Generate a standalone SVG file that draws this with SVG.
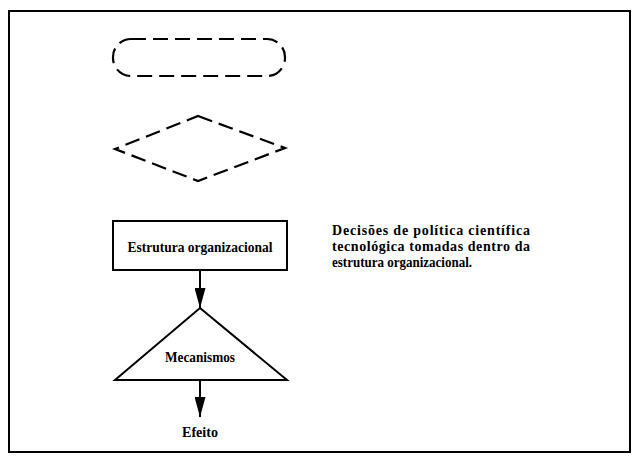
<svg xmlns="http://www.w3.org/2000/svg" width="637" height="458" viewBox="0 0 637 458">
<style>
.ln{fill:none;stroke:#000;stroke-width:2}
.dash{fill:none;stroke:#000;stroke-width:2.2;stroke-dasharray:15 7}
.t{font-family:"Liberation Serif","Times New Roman",serif;font-weight:bold;font-size:14px;fill:#000}
</style>
<defs>
<marker id="ah" markerWidth="20" markerHeight="11" refX="20" refY="5.5" orient="auto" markerUnits="userSpaceOnUse" viewBox="0 0 20 11"><path d="M0,0 L20,5.5 L0,11 Z" fill="#000"/></marker>
</defs>
<rect width="637" height="458" fill="#fff"/>
<rect x="9" y="11" width="621" height="441" class="ln"/>
<g id="terminal"><rect x="113" y="39" width="172" height="37" rx="18" class="dash"/></g>
<g id="decision"><path d="M198,116 L285,148 L198,181 L115,149 Z" class="dash"/></g>
<g id="estrutura"><rect x="113" y="221" width="174" height="49" class="ln"/><text x="200" y="252" text-anchor="middle" class="t" textLength="145" lengthAdjust="spacingAndGlyphs">Estrutura organizacional</text></g>
<g id="mecanismos"><path d="M200,308 L287,380 L115,380 Z" class="ln"/><text x="200" y="362" text-anchor="middle" class="t" textLength="70" lengthAdjust="spacingAndGlyphs">Mecanismos</text></g>
<g id="efeito"><text x="200" y="437" text-anchor="middle" class="t" textLength="36" lengthAdjust="spacingAndGlyphs">Efeito</text></g>
<g id="note"><text class="t" font-size="13.5">
<tspan x="332" y="235" textLength="198" lengthAdjust="spacing">Decisões de política científica</tspan>
<tspan x="332" y="251" textLength="198" lengthAdjust="spacing">tecnológica tomadas dentro da</tspan>
<tspan x="332" y="267" textLength="140" lengthAdjust="spacingAndGlyphs">estrutura organizacional.</tspan></text></g>
<g id="connectors">
<path d="M200,270 L200,308" class="ln" marker-end="url(#ah)"/>
<path d="M200,380 L200,417" class="ln" marker-end="url(#ah)"/>
</g>
</svg>
